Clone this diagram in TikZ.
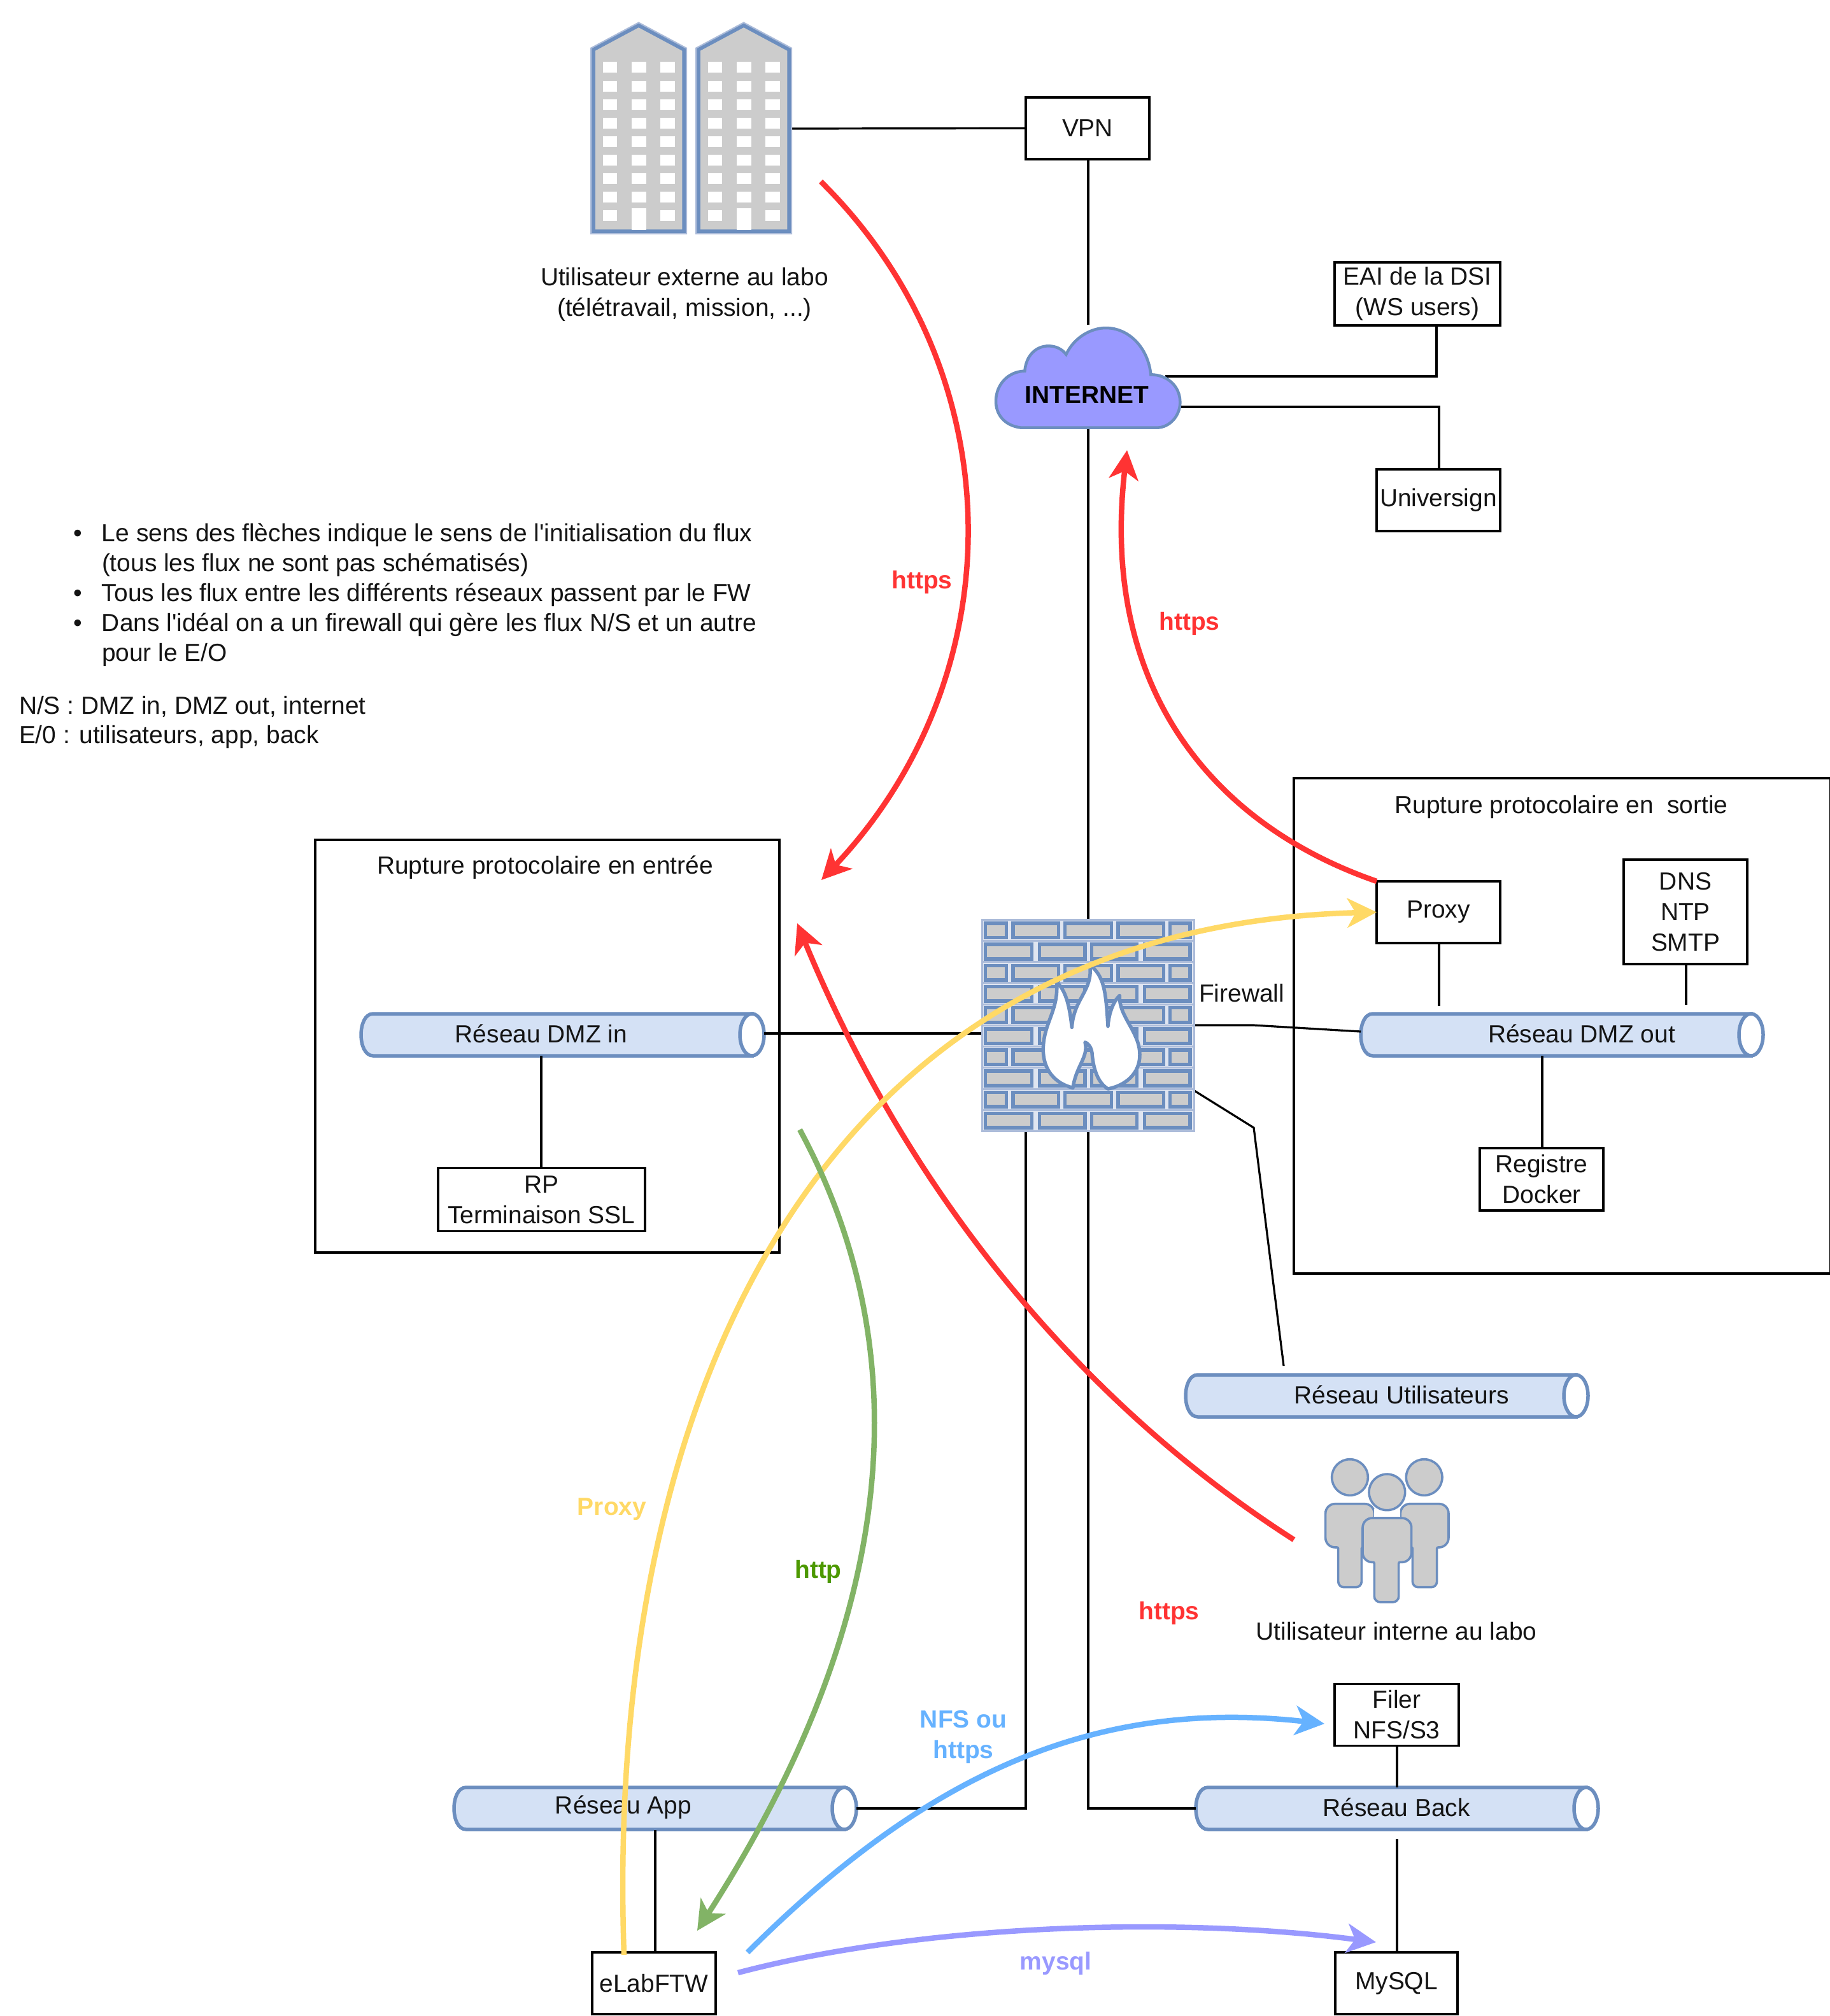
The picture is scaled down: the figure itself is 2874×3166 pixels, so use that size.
\documentclass[tikz,border=0pt]{standalone}
\usepackage{fontspec}
\setmainfont{Liberation Sans}[Ligatures=TeXOff]
\usetikzlibrary{arrows.meta,calc}
\definecolor{bluestroke}{HTML}{6C8EBF}
\definecolor{pipefill}{HTML}{D4E1F5}
\definecolor{icongray}{HTML}{CCCCCC}
\definecolor{cloudfill}{HTML}{9999FF}
\definecolor{flowred}{HTML}{FF3333}
\definecolor{flowyellow}{HTML}{FFD966}
\definecolor{flowgreen}{HTML}{82B366}
\definecolor{flowblue}{HTML}{66B2FF}
\definecolor{flowpurple}{HTML}{9999FF}
\definecolor{labelyellow}{HTML}{FFD966}
\definecolor{labelgreen}{HTML}{4D9900}
\definecolor{gaplight}{HTML}{DFE5F1}
\definecolor{rimblue}{HTML}{ABBBD9}
\tikzset{
  txt/.style={inner sep=0pt,outer sep=0pt,align=center,font=\fontsize{38.9}{48}\selectfont,text=black!92},
  flowlabel/.style={inner sep=0pt,outer sep=0pt,align=center,font=\fontsize{38.9}{48}\selectfont\bfseries},
  boxnode/.style={draw=black,line width=3.2pt,fill=white,inner sep=0pt,outer sep=0pt,align=center,
    font=\fontsize{38.9}{48}\selectfont,text=black!92},
  frame/.style={draw=black,line width=3.2pt,inner sep=0pt,outer sep=0pt},
  zone/.style={inner sep=0pt,outer sep=0pt},
  link/.style={draw=black,line width=3.2pt},
  flow/.style={line width=8.5pt,-{Stealth[length=46pt,width=46pt,inset=13pt]}},
  iconline/.style={draw=bluestroke,line width=5.5pt},
}
\newcommand{\pipeshape}[5]{%
  \node[zone,minimum width=#3pt-#2pt,minimum height=67pt] (#1) at ({(#2+#3)/2},#4) {};
  \draw[iconline,fill=pipefill] (#2+19,#4-33) -- (#3-19,#4-33) -- (#3-19,#4+33) -- (#2+19,#4+33)
     .. controls (#2-6.3,#4+33) and (#2-6.3,#4-33) .. cycle;
  \draw[iconline,fill=white] (#3-19,#4) ellipse[x radius=19,y radius=33];
  \node[txt] at (#5,#4-2) {\pipelabel};
}
\begin{document}
\begin{tikzpicture}[x=1pt,y=-1pt]
\useasboundingbox[fill=white] (0,0) rectangle (2874,3166);

% --- frames
\node[frame,minimum width=729pt,minimum height=648pt] (zonein) at (859.5,1643) {};
\node[frame,minimum width=843pt,minimum height=778pt] (zoneout) at (2453.5,1611) {};
\node[txt] (zoneintxt) at (856,1362) {Rupture protocolaire en entrée};
\node[txt] (zoneouttxt) at (2452,1267) {Rupture protocolaire en \ sortie};

% --- anchors of the icons
\node[zone,minimum width=312pt,minimum height=331pt] (bldg) at (1083,202) {};
\node[zone,minimum width=293pt,minimum height=160pt] (cloud) at (1708.5,593) {};
\node[zone,minimum width=334pt,minimum height=333pt] (fw) at (1709,1610.5) {};
\node[zone,minimum width=200pt,minimum height=235pt] (people) at (2178,2395) {};

% --- boxes
\node[boxnode,minimum width=194pt,minimum height=97pt] (vpn) at (1708,201.5) {VPN};
\node[boxnode,minimum width=260pt,minimum height=99pt] (eai) at (2226,461.5) {EAI de la DSI\\(WS users)};
\node[boxnode,minimum width=194pt,minimum height=97pt] (univ) at (2259,785.5) {Universign};
\node[boxnode,minimum width=194pt,minimum height=97pt] (proxy) at (2259,1432.5) {Proxy};
\node[boxnode,minimum width=194pt,minimum height=164pt] (dns) at (2647,1432) {DNS\\NTP\\SMTP};
\node[boxnode,minimum width=194pt,minimum height=98pt] (registre) at (2421,1852) {Registre\\Docker};
\node[boxnode,minimum width=325pt,minimum height=99pt] (rp) at (850.5,1884) {RP\\Terminaison SSL};
\node[boxnode,minimum width=195pt,minimum height=97pt] (filer) at (2193.5,2693) {Filer\\NFS/S3};
\node[boxnode,minimum width=192pt,minimum height=97pt] (mysql) at (2193,3114.5) {MySQL};
\node[boxnode,minimum width=194pt,minimum height=97pt] (elab) at (1027,3114.5) {eLabFTW};

% --- pipes
\def\pipelabel{Réseau DMZ in}\pipeshape{pin}{567}{1200}{1625}{850}
\def\pipelabel{Réseau DMZ out}\pipeshape{pout}{2137}{2769}{1625}{2484}
\def\pipelabel{Réseau Utilisateurs}\pipeshape{pusers}{1862}{2494}{2192}{2201}
\def\pipelabel{Réseau App}\pipeshape{papp}{713}{1345}{2840}{979}
\def\pipelabel{Réseau Back}\pipeshape{pback}{1878}{2510}{2840}{2193}

% --- connectors
\coordinate (cloudright) at (1855,639);
\coordinate (cloudtopright) at (1830,591);
\coordinate (fwdmzout) at (1876,1610);
\coordinate (fwusers) at (1876,1713);
\coordinate (fwappdown) at (1611,1777);
\coordinate (proxyfoot) at (2260,1580);
\coordinate (dnsfoot) at (2648,1578);
\coordinate (pinr) at (1200,1623);
\coordinate (poutl) at (2137,1620);
\coordinate (usersend) at (2016,2145);
\coordinate (backfoot) at (2194,2888);
\coordinate (bldgr) at (1243,202);
\draw[link] (bldgr) -- (vpn.west);
\draw[link] (1709,250) -- (1709,510);
\draw[link] (1709,673) -- (fw.north);
\draw[link] (2256,511) -- (2256,591) -- (cloudtopright);
\draw[link] (cloudright) -- (2260,639) -- (2260,737);
\draw[link] (pinr) -- (1542,1623);
\draw[link] (850,1658) -- (850,1836);
\draw[link] (2260,1481) -- (proxyfoot);
\draw[link] (2648,1514) -- (dnsfoot);
\draw[link] (2422,1658) -- (2422,1803);
\draw[link] (fwdmzout) -- (1969,1610) -- (poutl);
\draw[link] (fwusers) -- (1969,1771) -- (usersend);
\draw[link] (fwappdown) -- (1611,2840) -- (papp.east);
\draw[link] (fw.south) -- (1709,2840) -- (pback.west);
\draw[link] (2194,2742) -- (2194,2807);
\draw[link] (backfoot) -- (2194,3066);
\draw[link] (1029,2874) -- (1029,3066);

% --- buildings
\foreach \dx in {0,165}{
\begin{scope}[shift={(\dx,0)}]
  \draw[draw=rimblue,line width=10pt,line join=miter] (932,78) -- (1003,40) -- (1074,78) -- (1074,363) -- (932,363) -- cycle;
  \draw[iconline,fill=icongray,line join=miter] (932,78) -- (1003,40) -- (1074,78) -- (1074,363) -- (932,363) -- cycle;
  \foreach \wy in {97,127,156,185,214,243,272,301,330}{
    \fill[white] (947,\wy) rectangle (969,\wy+17);
    \fill[white] (1037,\wy) rectangle (1060,\wy+17);
  }
  \foreach \wy in {97,127,156,185,214,243,272,301}{
    \fill[white] (992,\wy) rectangle (1015,\wy+17);
  }
  \fill[white] (992,327) rectangle (1015,361);
\end{scope}}

% --- cloud
\begin{scope}[shift={(1540,490)},x=0.33333pt,y=-0.33333pt]
  \draw[iconline,line width=4.5pt,fill=cloudfill] (190,545) .. controls (110,535) and (70,480) .. (72,415)
    .. controls (75,340) and (130,280) .. (208,278)
    .. controls (215,200) and (265,160) .. (320,160)
    .. controls (355,160) and (385,175) .. (403,200)
    .. controls (440,120) and (520,75) .. (590,75)
    .. controls (700,75) and (790,170) .. (802,295)
    .. controls (880,295) and (940,350) .. (940,425)
    .. controls (940,490) and (890,545) .. (830,545) -- cycle;
\end{scope}
\node[txt,font=\fontsize{38.9}{48}\selectfont\bfseries,text=black] (internet) at (1707,620) {INTERNET};

% --- firewall
\begin{scope}[shift={(1500,1400)},x=0.33333pt,y=-0.33333pt]
  \draw[draw=rimblue,line width=3pt,fill=gaplight] (127,132) rectangle (1127,1130);
  \foreach \r in {1,...,9}{
    \draw[rimblue,line width=3pt] (127,{132+\r*99.8}) -- (1127,{132+\r*99.8});
  }
  \foreach \r in {0,2,4,6,8}{
    \foreach \a/\b in {135/250,265/495,510/745,760/990,1005/1115}{
      \draw[bluestroke,line width=5.5pt,fill=icongray] (\a+8,{150+99.5*\r}) rectangle (\b-8,{218+99.5*\r});
    }
  }
  \foreach \r in {1,3,5,7,9}{
    \foreach \a/\b in {135/370,390/620,635/865,885/1115}{
      \draw[bluestroke,line width=5.5pt,fill=icongray] (\a+8,{150+99.5*\r}) rectangle (\b-8,{218+99.5*\r});
    }
  }
  \draw[iconline,fill=white,line join=round] (555,925) .. controls (470,905) and (415,840) .. (415,745)
    .. controls (415,620) and (490,560) .. (478,425)
    .. controls (510,460) and (535,500) .. (550,640)
    .. controls (560,500) and (650,470) .. (635,345)
    .. controls (700,400) and (710,460) .. (720,635)
    .. controls (725,570) and (745,520) .. (775,490)
    .. controls (770,590) and (870,660) .. (870,770)
    .. controls (870,860) and (800,915) .. (720,930)
    .. controls (670,900) and (650,830) .. (645,760)
    .. controls (640,730) and (625,715) .. (612,710)
    .. controls (630,780) and (570,820) .. (555,925) -- cycle;
\end{scope}

% --- people
\begin{scope}[shift={(2040,2260)},x=0.33333pt,y=-0.33333pt]
  \tikzset{personline/.style={draw=bluestroke,line width=3.6pt,fill=icongray}}
  \draw[personline,rounded corners=15pt] (125,305) -- (355,305) -- (355,510) [rounded corners=2pt] -- (295,510) [rounded corners=9pt] -- (295,698) -- (185,698) [rounded corners=2pt] -- (185,510) [rounded corners=15pt] -- (125,510) -- cycle;
  \draw[personline,rounded corners=15pt] (478,305) -- (705,305) -- (705,510) [rounded corners=2pt] -- (650,510) [rounded corners=9pt] -- (650,698) -- (535,698) [rounded corners=2pt] -- (535,510) [rounded corners=15pt] -- (478,510) -- cycle;
  \draw[draw=bluestroke,line width=3.6pt,fill=icongray] (240,180) circle[radius=85];
  \draw[draw=bluestroke,line width=3.6pt,fill=icongray] (590,180) circle[radius=85];
  \fill[white] (355,330) rectangle (478,372);
  \draw[draw=bluestroke,line width=3.6pt,fill=icongray] (415,250) circle[radius=85];
  \draw[personline,rounded corners=15pt] (300,372) -- (530,372) -- (530,580) [rounded corners=2pt] -- (470,580) [rounded corners=9pt] -- (470,768) -- (355,768) [rounded corners=2pt] -- (355,580) [rounded corners=15pt] -- (300,580) -- cycle;
\end{scope}

% --- texts
\node[txt] (extuser) at (1075,462) {Utilisateur externe au labo\\(télétravail, mission, ...)};
\node[txt] (intuser) at (2193,2562) {Utilisateur interne au labo};
\node[txt,anchor=west] (fwtxt) at (1883,1560) {Firewall};
\node[txt,anchor=west,align=left,font=\fontsize{38.9}{47}\selectfont] (notes) at (115,934) {%
  \makebox[45pt][l]{•}Le sens des flèches indique le sens de l'initialisation du flux\\
  \makebox[45pt][l]{}(tous les flux ne sont pas schématisés)\\
  \makebox[45pt][l]{•}Tous les flux entre les différents réseaux passent par le FW\\
  \makebox[45pt][l]{•}Dans l'idéal on a un firewall qui gère les flux N/S et un autre\\
  \makebox[45pt][l]{}pour le E/O};
\node[txt,anchor=west,align=left,font=\fontsize{38.9}{46}\selectfont] (ns) at (30,1134) {N/S : DMZ in, DMZ out, internet\\E/0 : utilisateurs, app, back};

% --- flows
\coordinate (r1a) at (1289,285);
\coordinate (r1b) at (1290,1382);
\coordinate (r2b) at (1770,707);
\coordinate (r3a) at (2032,2418);
\coordinate (r3b) at (1252,1450);
\coordinate (ya) at (980,3070);
\coordinate (ga) at (1256,1774);
\coordinate (gb) at (1095,3032);
\coordinate (ba) at (1174,3066);
\coordinate (bb) at (2080,2707);
\coordinate (pa) at (1159,3098);
\coordinate (pb) at (2161,3050);
\draw[flow,flowred] (r1a) .. controls (1594,586) and (1594,1060) .. (r1b);
\draw[flow,flowred] (proxy.north west) .. controls (1899,1293) and (1727,1075) .. (r2b);
\draw[flow,flowred] (r3a) .. controls (1757,2242) and (1454,1939) .. (r3b);
\draw[flow,flowyellow] (ya) .. controls (949,2181) and (1293,1454) .. (proxy.west);
\draw[flow,flowgreen] (ga) .. controls (1400,2040) and (1470,2450) .. (gb);
\draw[flow,flowblue] (ba) .. controls (1454,2787) and (1717,2666) .. (bb);
\draw[flow,flowpurple] (pa) .. controls (1454,3020) and (1858,3010) .. (pb);

\node[flowlabel,text=flowred] (l1) at (1448,914) {https};
\node[flowlabel,text=flowred] (l2) at (1868,979) {https};
\node[flowlabel,text=flowred] (l3) at (1836,2533) {https};
\node[flowlabel,text=labelyellow] (l4) at (961,2370) {Proxy};
\node[flowlabel,text=labelgreen] (l5) at (1285,2468) {http};
\node[flowlabel,text=flowblue] (l6) at (1513,2728) {NFS ou\\https};
\node[flowlabel,text=flowpurple] (l7) at (1658,3083) {mysql};
\end{tikzpicture}
\end{document}
